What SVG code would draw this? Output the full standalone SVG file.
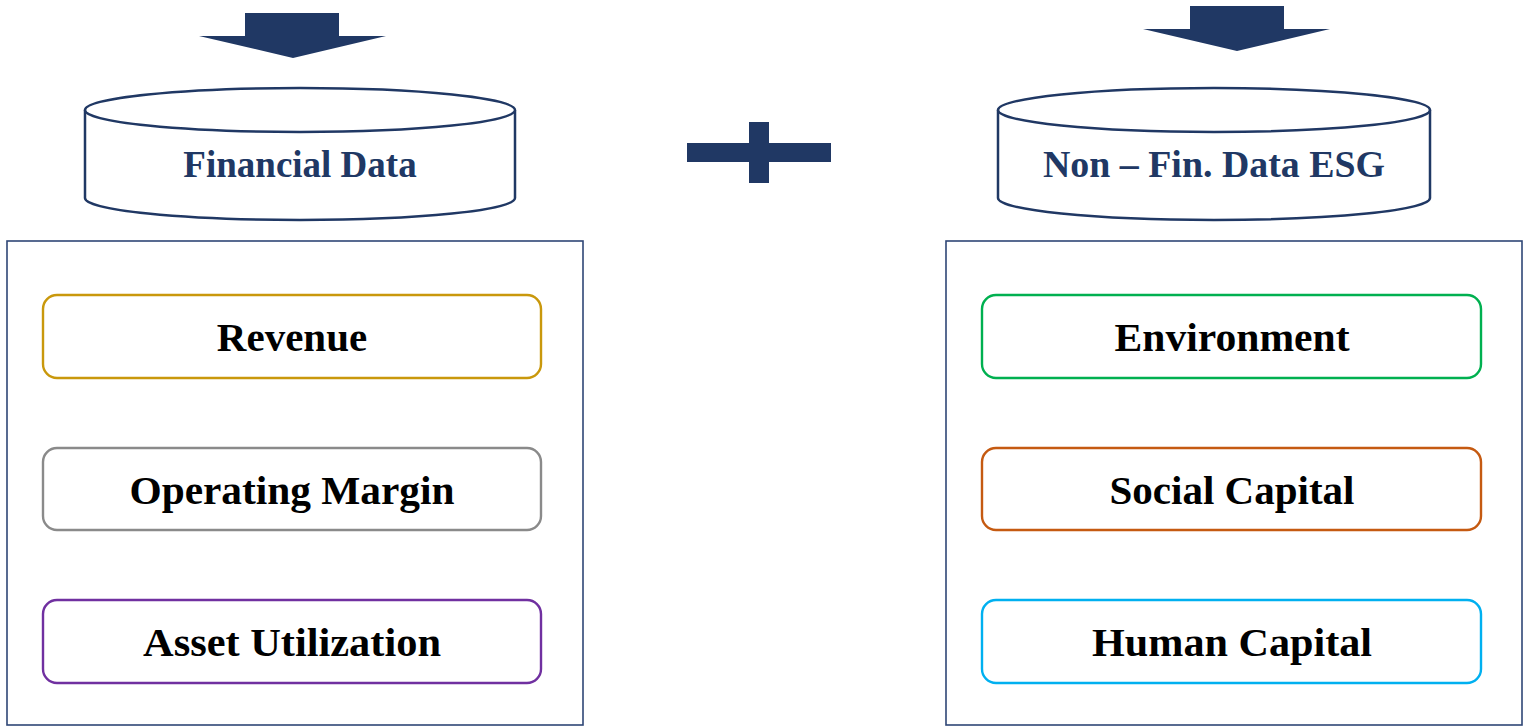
<svg xmlns="http://www.w3.org/2000/svg" width="1532" height="727" viewBox="0 0 1532 727">
<style>
.navy{fill:#203864}
.cyl{fill:#fff;stroke:#203864;stroke-width:2.5}
.panel{fill:#fff;stroke:#2F4676;stroke-width:1.6}
.item{fill:#fff;stroke-width:2.4}
.t{font-family:"Liberation Serif","Times New Roman",serif;font-weight:bold;text-anchor:middle}
.ct{font-size:37px;fill:#203864}
.it{font-size:41px;fill:#000}
</style>
<rect width="1532" height="727" fill="#fff"/>
<g id="arrows">
<polygon class="navy" points="245,13 339,13 339,36 386,36 293,58 199,36 245,36"/>
<polygon class="navy" points="1190,6 1284,6 1284,29 1330,29 1237,51 1143,29 1190,29"/>
</g>
<g id="plus">
<rect class="navy" x="687" y="143" width="144" height="19"/>
<rect class="navy" x="749" y="122" width="20" height="61"/>
</g>
<g id="financial-data">
<path class="cyl" d="M85,110 L85,198 A215,22 0 0 0 515,198 L515,110"/>
<ellipse class="cyl" cx="300" cy="110" rx="215" ry="22"/>
<text class="t ct" x="300" y="177">Financial Data</text>
</g>
<g id="nonfin-data">
<path class="cyl" d="M998,110 L998,198 A216,22 0 0 0 1430,198 L1430,110"/>
<ellipse class="cyl" cx="1214" cy="110" rx="216" ry="22"/>
<text class="t ct" x="1214" y="177" textLength="342" lengthAdjust="spacingAndGlyphs">Non – Fin. Data ESG</text>
</g>
<g id="financial-panel">
<rect class="panel" x="7" y="241" width="576" height="484"/>
</g>
<g id="esg-panel">
<rect class="panel" x="946" y="241" width="576" height="484"/>
</g>
<g id="revenue">
<rect class="item" x="43" y="295" width="498" height="83" rx="14" stroke="#C9980C"/>
<text class="t it" x="292" y="351">Revenue</text>
</g>
<g id="operating-margin">
<rect class="item" x="43" y="448" width="498" height="82" rx="14" stroke="#8A8A8A"/>
<text class="t it" x="292" y="504" textLength="325" lengthAdjust="spacingAndGlyphs">Operating Margin</text>
</g>
<g id="asset-utilization">
<rect class="item" x="43" y="600" width="498" height="83" rx="14" stroke="#7030A0"/>
<text class="t it" x="292" y="656" textLength="298" lengthAdjust="spacingAndGlyphs">Asset Utilization</text>
</g>
<g id="environment">
<rect class="item" x="982" y="295" width="499" height="83" rx="14" stroke="#00B050"/>
<text class="t it" x="1232" y="351" textLength="235" lengthAdjust="spacingAndGlyphs">Environment</text>
</g>
<g id="social-capital">
<rect class="item" x="982" y="448" width="499" height="82" rx="14" stroke="#C55A11"/>
<text class="t it" x="1232" y="504">Social Capital</text>
</g>
<g id="human-capital">
<rect class="item" x="982" y="600" width="499" height="83" rx="14" stroke="#00B0F0"/>
<text class="t it" x="1232" y="656" textLength="280" lengthAdjust="spacingAndGlyphs">Human Capital</text>
</g>
<g id="connectors"></g>
</svg>
